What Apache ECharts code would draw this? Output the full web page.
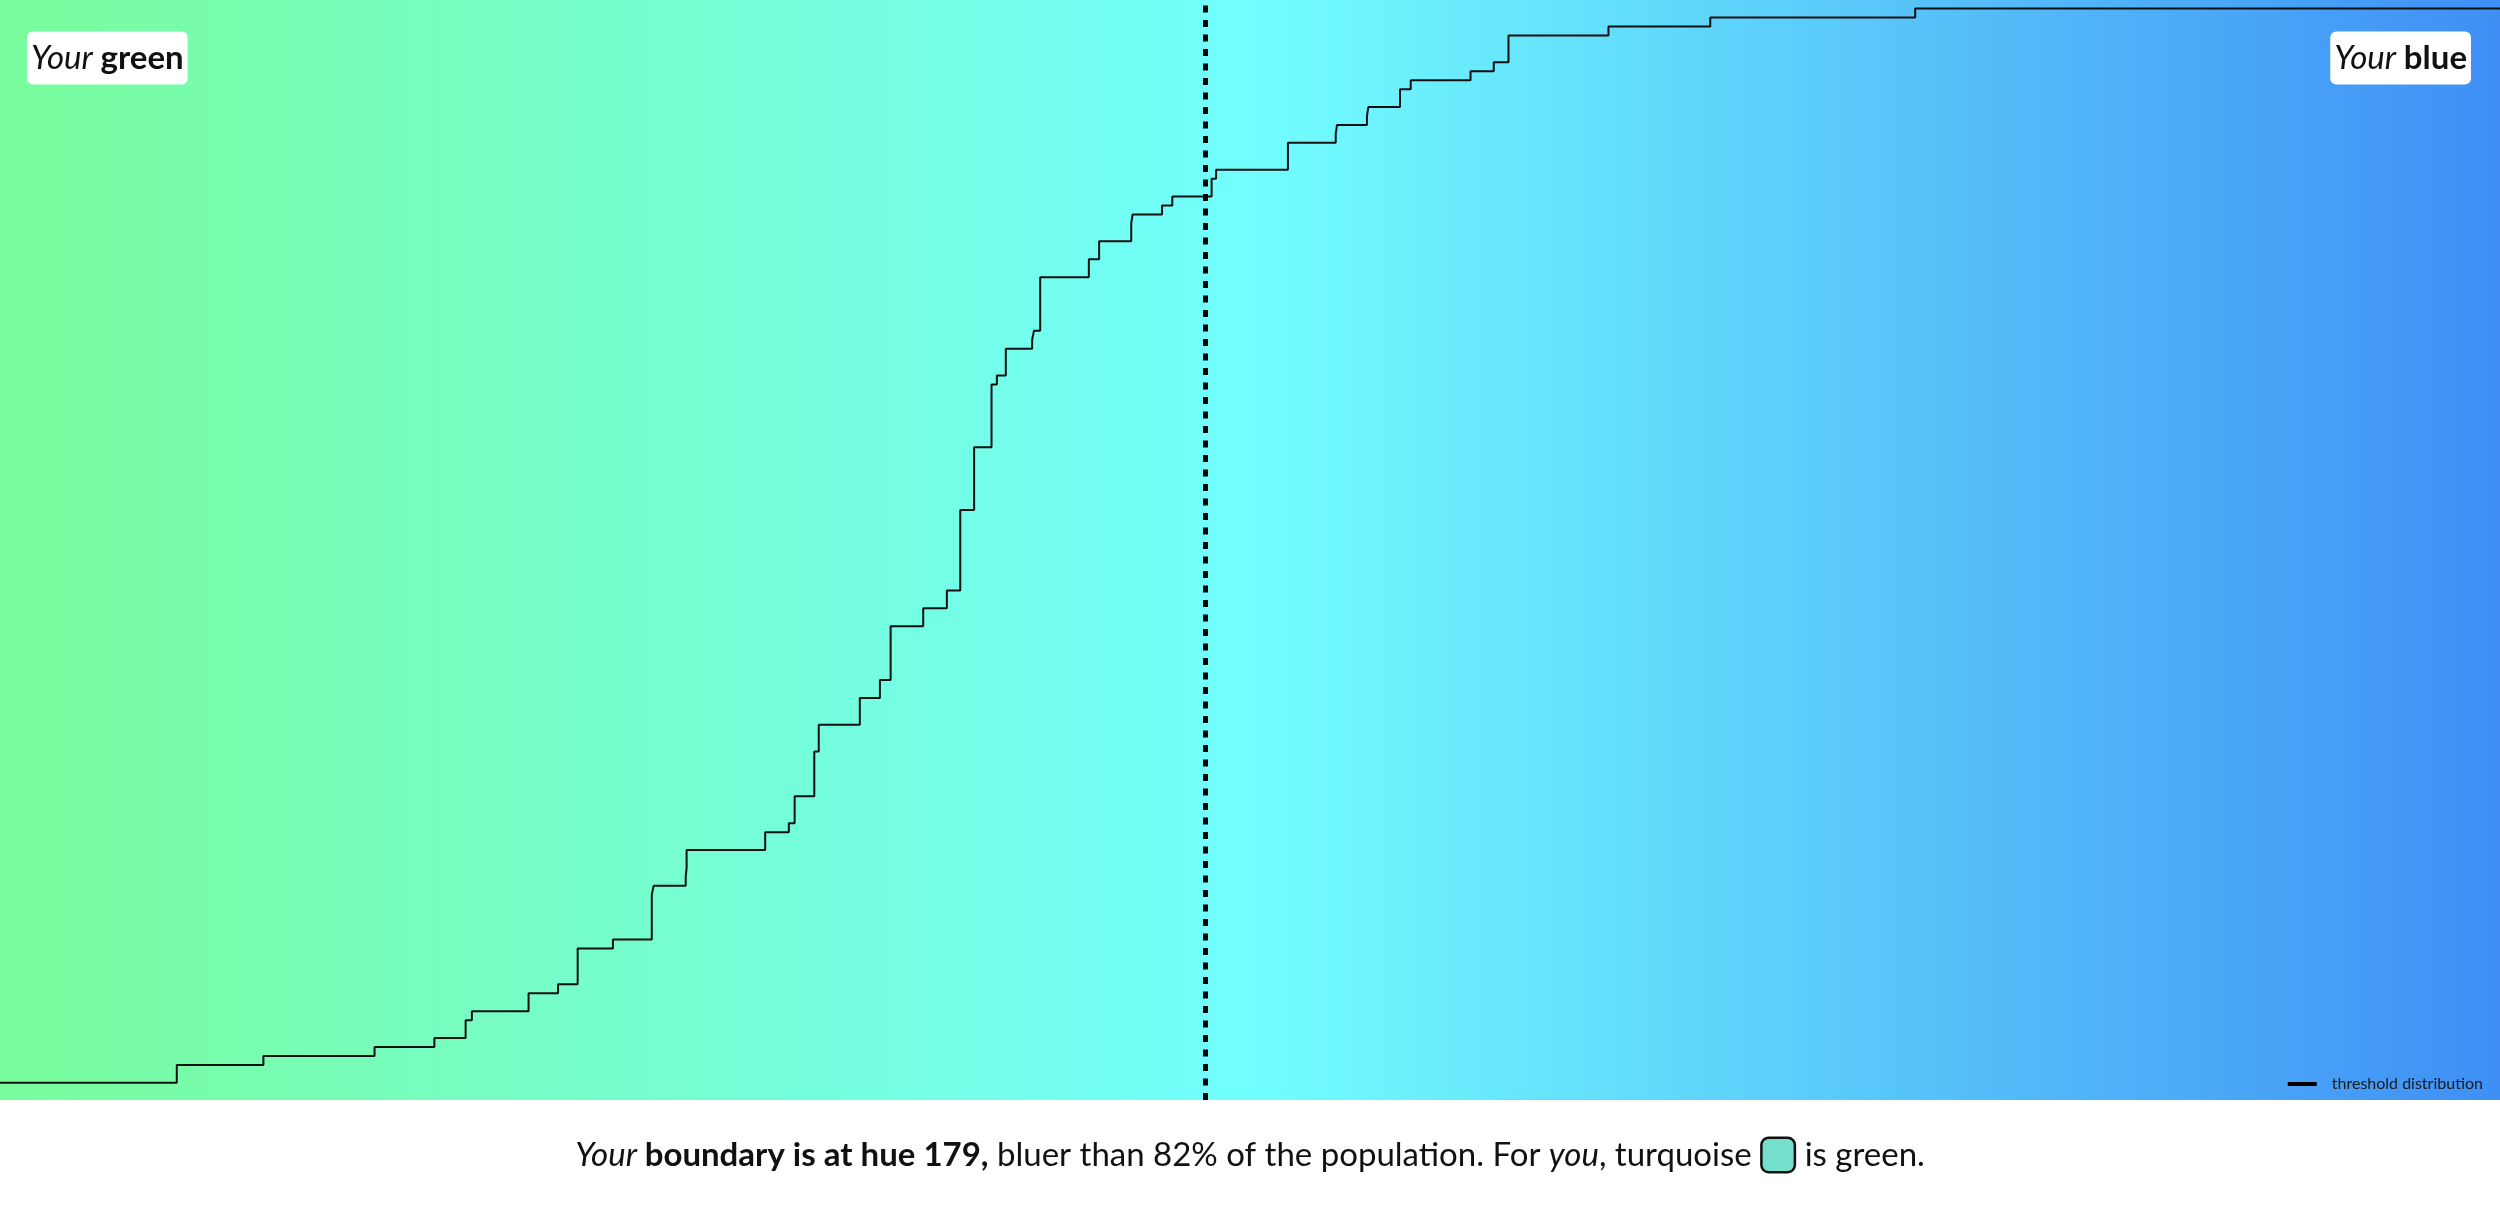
<!DOCTYPE html>
<html>
<head>
<meta charset="utf-8">
<title>threshold distribution</title>
<script src="https://cdn.jsdelivr.net/npm/echarts@6/dist/echarts.min.js"></script>
<style>
  html, body { margin: 0; padding: 0; background: #fff; }
  #chart { width: 2500px; height: 1205px; }
</style>
</head>
<body>
<div id="chart"></div>
<script>
// hue range shown on the x axis
const hueMin = 152;
const hueMax = 208;
// the user's boundary (dashed line)
const boundaryHue = 179;
// thresholds of the population (120 people)
const hueThresholds = [
  155.96, 155.96, 157.90, 160.39, 161.73, 162.43, 162.43, 162.57,
  163.84, 163.84, 164.50, 164.94, 164.94, 164.94, 164.94, 165.73,
  166.60, 166.60, 166.60, 166.60, 166.60, 166.64,
  167.36, 167.38, 167.38, 167.38, 169.14, 169.14, 169.67,
  169.80, 169.80, 169.80, 170.24, 170.24, 170.24, 170.24, 170.24,
  170.34, 170.34, 170.34, 171.26, 171.26, 171.26, 171.71, 171.71,
  171.95, 171.95, 171.95, 171.95, 171.95, 171.95, 172.68, 172.68,
  173.21, 173.21,
  173.51, 173.51, 173.51, 173.51, 173.51, 173.51, 173.51, 173.51, 173.51,
  173.82, 173.82, 173.82, 173.82, 173.82, 173.82, 173.82,
  174.21, 174.21, 174.21, 174.21, 174.21, 174.21, 174.21,
  174.33, 174.53, 174.53, 174.53, 175.12, 175.16,
  175.30, 175.30, 175.30, 175.30, 175.30, 175.30,
  176.39, 176.39, 176.62, 176.62, 177.34, 177.34, 177.37, 178.03, 178.26,
  179.14, 179.14, 179.24, 180.85, 180.85, 180.85, 181.92, 181.95,
  182.62, 182.65, 183.36, 183.36, 183.60, 184.94, 185.46,
  185.79, 185.79, 185.79, 188.03, 190.31, 194.90
];

// empirical cumulative distribution
let sorted = hueThresholds.slice().sort((a, b) => a - b);
let n = sorted.length;
let cdf = [[hueMin, 0]];
sorted.forEach((h, i) => {
  cdf.push([h, (i + 1) / n]);
});
cdf.push([hueMax, 1]);

let font = 'Lato, "Open Sans", sans-serif';
function richSet(size) {
  let txt = { fontFamily: font, fontSize: size, lineHeight: 38, color: '#111' };
  return {
    i: Object.assign({}, txt, { fontStyle: 'italic', fontWeight: 400 }),
    b: Object.assign({}, txt, { fontStyle: 'normal', fontWeight: 700 }),
    n: Object.assign({}, txt, { fontStyle: 'normal', fontWeight: 400 }),
    g: Object.assign({}, txt, { fontWeight: 400, width: 11 }),
    sw: {
      width: 31, height: 32,
      backgroundColor: '#74dfcc',
      borderColor: '#111', borderWidth: 2.5, borderRadius: 6
    }
  };
}

var myChart = echarts.init(document.getElementById('chart'));
var options = {
  animation: false,
  grid: {
    left: 0, right: 0, top: 0, bottom: 105,
    show: true,
    borderWidth: 0,
    backgroundColor: {
      type: 'linear', x: 0, y: 0, x2: 1, y2: 0,
      colorStops: [
        { offset: 0, color: '#79fc9c' },
        { offset: 0.5, color: '#72fefe' },
        { offset: 1, color: '#3f8ff5' }
      ]
    }
  },
  xAxis: {
    type: 'value',
    min: hueMin,
    max: hueMax,
    show: false
  },
  yAxis: {
    type: 'value',
    min: -0.016,
    max: 1.008,
    show: false
  },
  title: [
    {
      text: '{i|Your }{b|green}',
      left: 27, top: 29,
      padding: [10, 4],
      backgroundColor: '#fff',
      borderRadius: 6,
      textStyle: { fontWeight: 400, rich: richSet(33) }
    },
    {
      text: '{i|Your }{b|blue}',
      right: 29, top: 29,
      padding: [10, 4],
      backgroundColor: '#fff',
      borderRadius: 6,
      textStyle: { fontWeight: 400, rich: richSet(33) }
    },
    {
      text: '{i|Your }{b|boundary is at hue ' + boundaryHue + ',}{n| bluer than 82% of the population. For }{i|you}{n|, turquoise}{g| }{sw| }{g| }{n|is green.}',
      left: 'center', top: 1136,
      padding: 0,
      textStyle: { fontWeight: 400, rich: richSet(33) }
    }
  ],
  legend: {
    data: ['threshold distribution'],
    right: 12,
    top: 1071,
    icon: 'rect',
    itemWidth: 29,
    itemHeight: 4,
    textStyle: {
      fontFamily: font,
      fontSize: 16,
      color: '#1a1a1a',
      padding: [0, 0, 0, 10]
    }
  },
  series: [{
    name: 'threshold distribution',
    type: 'line',
    step: 'end',
    data: cdf,
    showSymbol: false,
    symbol: 'none',
    color: '#000',
    lineStyle: { color: '#111', width: 2 },
    markLine: {
      silent: true,
      symbol: 'none',
      label: { show: false },
      lineStyle: { color: '#000', width: 5, type: [7, 7.5] },
      data: [{ xAxis: boundaryHue }]
    }
  }]
};
myChart.setOption(options);
</script>
</body>
</html>
